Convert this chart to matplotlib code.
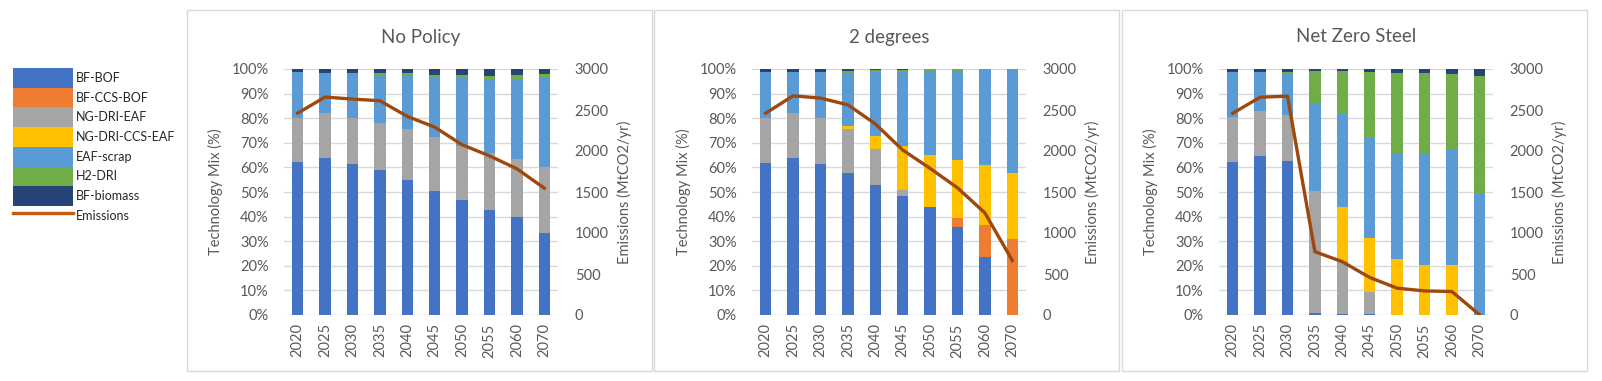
import numpy as np
import matplotlib
matplotlib.use('agg')
import matplotlib.pyplot as plt
from matplotlib.patches import Patch, Rectangle
from matplotlib.lines import Line2D

plt.rcParams['font.family'] = ['Lato', 'DejaVu Sans']

# categories
years = ['2020', '2025', '2030', '2035', '2040', '2045', '2050', '2055', '2060', '2070']
techs = ['BF-BOF', 'BF-CCS-BOF', 'NG-DRI-EAF', 'NG-DRI-CCS-EAF', 'EAF-scrap', 'H2-DRI', 'BF-biomass']
colors = ['#4472C4', '#ED7D31', '#A5A5A5', '#FFC000', '#5B9BD5', '#70AD47', '#264478']
scenarios = ['No Policy', '2 degrees', 'Net Zero Steel']

# technology mix (%), one row per technology (same order as techs)
no_policy_mix = [
    [62.0, 64.0, 61.5, 59.0, 55.0, 50.5, 46.8, 42.7, 39.9, 33.4],
    [0, 0, 0, 0, 0, 0, 0, 0, 0, 0],
    [18.2, 18.2, 18.7, 19.2, 20.7, 22.0, 22.0, 23.2, 23.6, 26.8],
    [0, 0, 0, 0, 0, 0, 0, 0, 0, 0],
    [18.7, 16.3, 18.0, 19.5, 21.7, 24.4, 27.8, 30.2, 32.6, 36.3],
    [0, 0, 0.3, 0.5, 0.8, 0.8, 1.1, 1.2, 1.6, 1.5],
    [1.1, 1.5, 1.5, 1.8, 1.8, 2.3, 2.3, 2.7, 2.3, 2.0],
]
two_degrees_mix = [
    [61.6, 63.8, 61.4, 57.7, 52.8, 48.3, 43.8, 35.6, 23.4, 0],
    [0, 0, 0, 0, 0, 0, 0, 3.9, 13.1, 30.7],
    [18.5, 18.4, 18.7, 17.8, 14.7, 2.4, 0, 0, 0, 0],
    [0, 0, 0, 1.4, 5.3, 17.9, 21.2, 23.5, 24.5, 27.0],
    [18.8, 16.7, 18.8, 21.5, 26.4, 30.6, 34.2, 36.2, 38.5, 42.0],
    [0, 0, 0, 0.8, 0.5, 0.5, 0.8, 0.8, 0.5, 0.3],
    [1.1, 1.1, 1.1, 0.8, 0.3, 0.3, 0, 0, 0, 0],
]
net_zero_mix = [
    [62.1, 64.6, 62.5, 0.8, 0.4, 0.4, 0, 0, 0, 0],
    [0, 0, 0, 0, 0, 0, 0, 0, 0, 0],
    [18.4, 18.4, 18.8, 49.5, 21.6, 9.0, 0, 0, 0, 0],
    [0, 0, 0, 0, 21.7, 22.1, 22.9, 20.4, 20.4, 0],
    [18.4, 15.9, 17.2, 35.7, 38.3, 40.6, 42.8, 45.0, 46.9, 49.3],
    [0, 0, 0.4, 13.2, 17.2, 26.8, 32.8, 33.1, 30.8, 48.0],
    [1.1, 1.1, 1.1, 0.8, 0.8, 1.1, 1.5, 1.5, 1.9, 2.7],
]

# emissions (MtCO2/yr)
no_policy_em = [2462, 2658, 2633, 2613, 2422, 2291, 2076, 1941, 1783, 1547]
two_degrees_em = [2461, 2673, 2645, 2563, 2331, 2012, 1788, 1551, 1245, 665]
net_zero_em = [2460, 2656, 2669, 772, 650, 458, 327, 294, 286, 5]

mixes = [no_policy_mix, two_degrees_mix, net_zero_mix]
emissions = [no_policy_em, two_degrees_em, net_zero_em]

W, H = 1602, 381
fig = plt.figure(figsize=(W / 100, H / 100), dpi=100)

txt = '#595959'
grid = '#D9D9D9'
line_col = '#9E480E'

panel_left = [187, 654, 1122]
axes_left = [284, 752, 1219]
ax_w = 274
ax_bottom, ax_top = 315, 69

x = np.arange(len(years))
for i in range(3):
    # panel frame
    fig.patches.append(Rectangle((panel_left[i] / W, 1 - 371 / H), 465 / W, 361 / H,
                                 transform=fig.transFigure, fill=False,
                                 edgecolor=grid, linewidth=1))
    ax = fig.add_axes([axes_left[i] / W, 1 - ax_bottom / H, ax_w / W, (ax_bottom - ax_top) / H])
    bottom = np.zeros(len(years))
    for vals, c in zip(mixes[i], colors):
        vals = np.array(vals) / 100
        ax.bar(x, vals, 0.42, bottom=bottom, color=c, linewidth=0, zorder=2)
        bottom += vals
    ax.set_ylim(0, 1)
    ax.set_xlim(-0.5, len(years) - 0.5)
    ax.set_yticks(np.arange(0, 1.01, 0.1))
    ax.set_yticklabels([f'{int(round(v * 100))}%' for v in np.arange(0, 1.01, 0.1)])
    ax.set_xticks(x)
    ax.set_xticklabels(years, rotation=90)
    ax.grid(axis='y', color=grid, linewidth=1, zorder=0)
    ax.set_axisbelow(True)
    for s in ax.spines.values():
        s.set_visible(False)
    ax.tick_params(length=0, colors=txt, labelsize=10.5, pad=11)
    ax.tick_params(axis='x', pad=6)
    ax.set_ylabel('Technology Mix (%)', color=txt, fontsize=10.5, labelpad=6)

    ax2 = ax.twinx()
    ax2.plot(x, emissions[i], color=line_col, linewidth=2.4, zorder=5)
    ax2.set_ylim(0, 3000)
    ax2.set_yticks(range(0, 3001, 500))
    for s in ax2.spines.values():
        s.set_visible(False)
    ax2.tick_params(length=0, colors=txt, labelsize=10.5, pad=12)
    ax2.set_ylabel('Emissions (MtCO2/yr)', color=txt, fontsize=10.5, labelpad=6)

    fig.text((axes_left[i] + ax_w / 2) / W, 1 - 37 / H, scenarios[i],
             ha='center', va='center', fontsize=13.5, color=txt)

handles = [Patch(facecolor=c, edgecolor='none', label=t) for t, c in zip(techs, colors)]
handles.append(Line2D([], [], color='#C55A11', linewidth=2.4, label='Emissions'))
fig.legend(handles=handles, loc='upper left', bbox_to_anchor=(13 / W, 1 - 68 / H),
           frameon=False, fontsize=9, handlelength=4.8, handleheight=2.05,
           labelspacing=0, handletextpad=0.2, borderpad=0, borderaxespad=0,
           labelcolor='#262626')

fig.savefig('out.png', dpi=100)
plt.close()
